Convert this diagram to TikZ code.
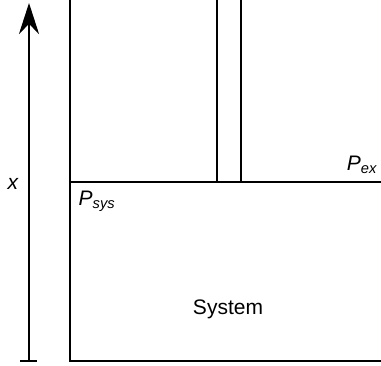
\documentclass[tikz,border=0pt]{standalone}
\usepackage{fontspec}
\setmainfont{Liberation Sans}
\usetikzlibrary{arrows.meta,calc}

\begin{document}
\begin{tikzpicture}[line width=2.8pt, line cap=butt, >={Stealth[length=31pt,width=20pt]}, x=1pt,y=1pt,
  lbl/.style={font=\fontsize{21}{24}\selectfont}]
  \useasboundingbox (0,0) rectangle (381,365);
  % --- height axis ---
  \coordinate (X0) at (29,4);
  \coordinate (X1) at (29,362);
  \draw[->] (X0) -- (X1);
  \draw ($(X0)+(-9,0)$) -- ($(X0)+(8,0)$);
  \node[lbl] (xlab) at (13,181) {\itshape x};
  % --- cylinder ---
  \coordinate (A) at (70,365);
  \coordinate (B) at (70,4);
  \coordinate (C) at (381,4);
  \draw (A) -- (B) -- (C);
  % --- piston and rod ---
  \coordinate (D) at (70,183);
  \coordinate (E) at (381,183);
  \draw (D) -- (E);
  \draw (217,183) -- (217,365);
  \draw (241,183) -- (241,365);
  % --- labels ---
  \node[lbl] (pex) at (362,200) {\itshape P\textsubscript{ex}};
  \node[lbl] (psys) at (97,164) {\itshape P\textsubscript{sys}};
  \node[lbl] (sys) at (228,56) {System};
\end{tikzpicture}
\end{document}
